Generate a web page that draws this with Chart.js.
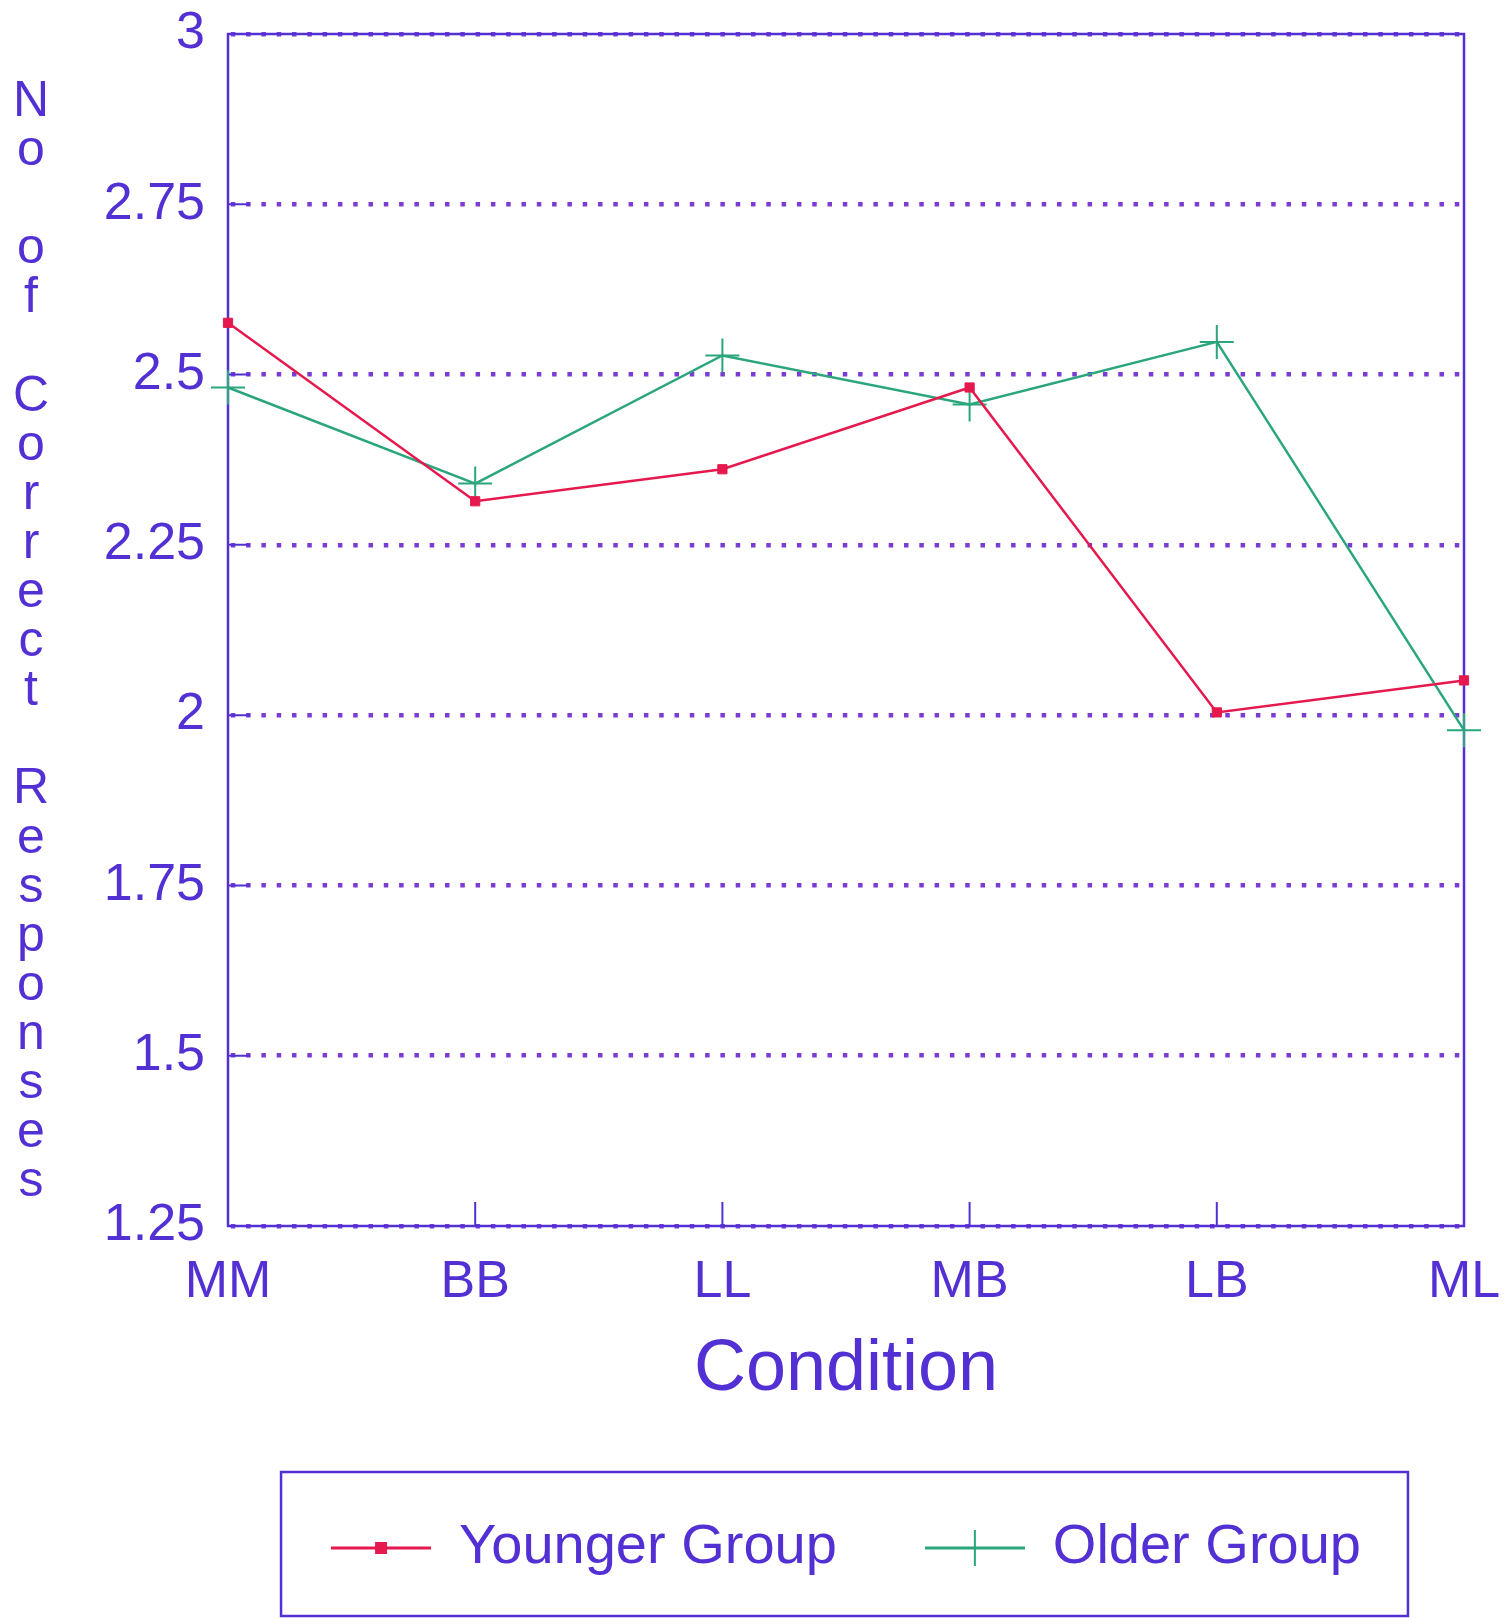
<!DOCTYPE html>
<html>
<head>
<meta charset="utf-8">
<title>No of Correct Responses by Condition</title>
<script src="https://cdn.jsdelivr.net/npm/chart.js@4.4.1/dist/chart.umd.min.js"></script>
<style>
    html, body { margin: 0; padding: 0; background: #ffffff; }
    #wrap { width: 1510px; height: 1618px; position: relative; }
</style>
</head>
<body>
<div id="wrap"><canvas id="conditionChart"></canvas></div>
<script>
// Chart data
const conditions = ['MM', 'BB', 'LL', 'MB', 'LB', 'ML'];
const youngerGroup = [2.576, 2.314, 2.361, 2.481, 2.004, 2.051];
const olderGroup = [2.481, 2.340, 2.528, 2.456, 2.548, 1.978];
const yTicks = [1.25, 1.5, 1.75, 2, 2.25, 2.5, 2.75, 3];
const yTitle = 'No of Correct Responses';
const xTitle = 'Condition';

const INK = '#5330d4';
const DOTS = '#7a3cd2';
const RED = '#e5194d';
const GREEN = '#2aa57c';
const FONT = '"Liberation Sans", Arial, sans-serif';

// legend symbol: short line with the series marker in the middle
function legendIcon(color, marker) {
    const c = document.createElement('canvas');
    c.width = 100;
    c.height = 40;
    const g = c.getContext('2d');
    g.strokeStyle = color;
    g.fillStyle = color;
    g.lineWidth = 3;
    g.beginPath();
    g.moveTo(0, 20);
    g.lineTo(100, 20);
    g.stroke();
    if (marker === 'rect') {
        g.fillRect(44, 14, 12, 12);
    } else {
        g.lineWidth = 2;
        g.beginPath();
        g.moveTo(50, 2);
        g.lineTo(50, 38);
        g.stroke();
    }
    return c;
}
const legendIcons = [legendIcon(RED, 'rect'), legendIcon(GREEN, 'cross')];

// frame, inward tick marks, upright stacked y title, legend box
const framePlugin = {
    id: 'frame',
    beforeDatasetsDraw(chart) {
        const {ctx, chartArea: a, scales: {x, y}} = chart;
        ctx.save();
        ctx.strokeStyle = INK;
        ctx.lineWidth = 2.5;
        ctx.strokeRect(a.left, a.top, a.right - a.left, a.bottom - a.top);
        ctx.lineWidth = 2;
        ctx.beginPath();
        y.ticks.forEach(t => {
            const py = y.getPixelForValue(t.value);
            ctx.moveTo(a.left, py);
            ctx.lineTo(a.left + 22, py);
        });
        x.ticks.forEach((t, i) => {
            const px = x.getPixelForTick(i);
            ctx.moveTo(px, a.bottom);
            ctx.lineTo(px, a.bottom - 24);
        });
        ctx.stroke();
        ctx.restore();
    },
    afterDraw(chart) {
        const ctx = chart.ctx;
        ctx.save();
        ctx.fillStyle = INK;
        ctx.font = '50px ' + FONT;
        ctx.textAlign = 'center';
        ctx.textBaseline = 'alphabetic';
        [...yTitle].forEach((ch, i) => {
            ctx.fillText(ch, 31, 116 + i * 49.1);
        });

        const boxes = chart.legend.legendHitBoxes;
        if (boxes && boxes.length) {
            const first = boxes[0];
            const last = boxes[boxes.length - 1];
            const left = first.left - 50;
            const right = last.left + last.width + 47;
            const top = chart.legend.top + 40;
            ctx.strokeStyle = INK;
            ctx.lineWidth = 2.5;
            ctx.strokeRect(left, top, right - left, chart.height - 2 - top);
        }
        ctx.restore();
    }
};

const ctx = document.getElementById('conditionChart').getContext('2d');
const conditionChart = new Chart(ctx, {
    type: 'line',
    data: {
        labels: conditions,
        datasets: [{
            label: 'Younger Group',
            data: youngerGroup,
            borderColor: RED,
            backgroundColor: RED,
            borderWidth: 2.5,
            pointStyle: 'rect',
            pointRadius: 6.5,
            pointBorderWidth: 1,
            tension: 0,
            fill: false
        }, {
            label: 'Older Group',
            data: olderGroup,
            borderColor: GREEN,
            backgroundColor: GREEN,
            borderWidth: 2.5,
            pointStyle: 'cross',
            pointRadius: 17,
            pointBorderWidth: 2,
            tension: 0,
            fill: false
        }]
    },
    options: {
        responsive: true,
        maintainAspectRatio: false,
        animation: false,
        events: [],
        layout: {
            padding: { top: 34, right: 46, bottom: 32, left: 0 }
        },
        plugins: {
            tooltip: { enabled: false },
            legend: {
                position: 'bottom',
                fullSize: false,
                labels: {
                    usePointStyle: true,
                    pointStyleWidth: 100,
                    padding: 88,
                    color: INK,
                    font: { family: FONT, size: 56 },
                    generateLabels(chart) {
                        const items = Chart.defaults.plugins.legend.labels.generateLabels(chart);
                        items.forEach((item, i) => { item.pointStyle = legendIcons[i]; });
                        return items;
                    }
                }
            }
        },
        scales: {
            x: {
                offset: false,
                grid: { display: false, drawTicks: false },
                border: { display: false },
                ticks: {
                    color: INK,
                    padding: 25,
                    maxRotation: 0,
                    font: { family: FONT, size: 52 }
                },
                title: {
                    display: true,
                    text: xTitle,
                    color: INK,
                    padding: { top: 0, bottom: 19 },
                    font: { family: FONT, size: 72 }
                },
                afterFit(scale) {
                    scale.height = 206;
                    scale.paddingLeft = 0;
                    scale.paddingRight = 0;
                }
            },
            y: {
                min: 1.25,
                max: 3,
                grid: {
                    color: DOTS,
                    lineWidth: 4.5,
                    drawTicks: false
                },
                border: { display: false, dash: [4.5, 10.8], dashOffset: 12.5 },
                afterBuildTicks(scale) {
                    scale.ticks = yTicks.map(v => ({ value: v }));
                },
                ticks: {
                    color: INK,
                    padding: 23,
                    font: { family: FONT, size: 52 },
                    callback: v => String(v)
                },
                afterFit(scale) {
                    scale.width = 228;
                    scale.paddingTop = 0;
                    scale.paddingBottom = 0;
                }
            }
        }
    },
    plugins: [framePlugin]
});
</script>
</body>
</html>
